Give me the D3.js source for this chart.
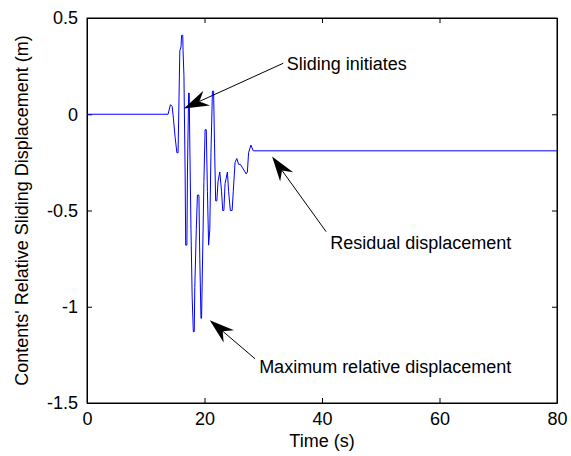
<!DOCTYPE html>
<html>
<head>
<meta charset="utf-8">
<script src="https://cdn.jsdelivr.net/npm/d3@7"></script>
<style>
  body { margin: 0; background: #fff; }
  text { font-family: "Liberation Sans", Arial, sans-serif; fill: #000; }
</style>
</head>
<body>
<div id="chart"></div>
<script>
// sliding displacement trace (time s, displacement m)
var times = [0, 13.8, 14.2, 14.5, 14.7, 15.0, 15.3, 15.5, 15.6, 15.8, 16.0, 16.1, 16.3, 16.35, 16.5, 16.7, 16.8, 17.0,
  17.1, 17.3, 17.4, 17.5, 17.7, 17.9, 18.1, 18.25, 18.35, 18.6, 18.8, 19.05, 19.2, 19.4, 19.5, 19.7, 19.9, 20.1,
  20.3, 20.5, 20.7, 20.9, 21.1, 21.35, 21.55, 21.7, 21.9, 22.1, 22.3, 22.6, 22.9, 23.1, 23.3, 23.5, 23.9, 24.1,
  24.4, 24.7, 24.9, 25.2, 25.5, 25.8, 26.1, 26.5, 26.9, 27.1, 27.3, 27.5, 27.9, 28.3, 80];
var disp = [0, 0, 0.05, 0.04, -0.02, -0.12, -0.2, -0.2, -0.03, 0.33, 0.35, 0.41, 0.41, 0.33, 0.2, -0.3, -0.68, -0.68,
  -0.3, 0.11, 0.11, -0.16, -0.6, -0.95, -1.13, -1.13, -0.9, -0.6, -0.42, -0.42, -0.75, -1.06, -1.06, -0.7, -0.35, -0.08,
  -0.08, -0.4, -0.68, -0.6, -0.2, 0.12, 0.12, -0.15, -0.45, -0.45, -0.35, -0.3, -0.4, -0.5, -0.5, -0.36, -0.3, -0.4,
  -0.5, -0.5, -0.4, -0.25, -0.23, -0.26, -0.26, -0.28, -0.3, -0.31, -0.3, -0.2, -0.16, -0.19, -0.19];

var xTicks = [0, 20, 40, 60, 80];
var yTicks = [0.5, 0, -0.5, -1, -1.5];

// annotations: tip and tail of each arrow and text anchor, in data units
var notes = [
  {text: "Sliding initiates", tip: [16.5, 0.03], tail: [33.4, 0.265], at: [34.0, 0.23]},
  {text: "Residual displacement", tip: [31.5, -0.22], tail: [40.7, -0.61], at: [41.4, -0.70]},
  {text: "Maximum relative displacement", tip: [20.9, -1.07], tail: [28.6, -1.27], at: [29.3, -1.345]}
];

var W = 571, H = 456;
var margin = {top: 18, right: 14, bottom: 53, left: 87},
    width = W - margin.left - margin.right,
    height = H - margin.top - margin.bottom;

var x = d3.scaleLinear().domain([0, 80]).range([0, width]);
var y = d3.scaleLinear().domain([-1.5, 0.5]).range([height, 0]);

var plain = function (d) { return String(d); }; // matlab style labels, plain hyphen

var svg = d3.select("#chart").append("svg")
    .attr("width", W)
    .attr("height", H);

var main = svg.append("g")
    .attr("transform", "translate(" + margin.left + "," + margin.top + ")");

// inward ticks like matlab, on all four sides
main.append("g")
    .attr("transform", "translate(0," + height + ")")
    .call(d3.axisBottom(x).tickValues(xTicks).tickSizeInner(-5).tickSizeOuter(0).tickPadding(9).tickFormat(plain));
main.append("g")
    .call(d3.axisTop(x).tickValues(xTicks).tickSizeInner(-5).tickSizeOuter(0).tickFormat(""));
main.append("g")
    .call(d3.axisLeft(y).tickValues(yTicks).tickSizeInner(-5).tickSizeOuter(0).tickPadding(9).tickFormat(plain));
main.append("g")
    .attr("transform", "translate(" + width + ",0)")
    .call(d3.axisRight(y).tickValues(yTicks).tickSizeInner(-5).tickSizeOuter(0).tickFormat(""));

main.selectAll(".tick text").style("font-size", "18px").style("font-family", "Liberation Sans, Arial, sans-serif");
main.selectAll(".domain, .tick line").attr("stroke", "#000");

main.append("rect")
    .attr("width", width).attr("height", height)
    .attr("fill", "none").attr("stroke", "#000").attr("stroke-width", 1);

var line = d3.line()
    .x(function (d, i) { return x(times[i]); })
    .y(function (d) { return y(d); });

main.append("path")
    .datum(disp)
    .attr("fill", "none")
    .attr("stroke", "#0000ff")
    .attr("stroke-width", 1)
    .attr("d", line);

// arrows
notes.forEach(function (n) {
  var x1 = x(n.tail[0]), y1 = y(n.tail[1]), x2 = x(n.tip[0]), y2 = y(n.tip[1]);
  var ang = Math.atan2(y2 - y1, x2 - x1);
  var L = 25, Wd = 8, back = 17;
  main.append("line")
      .attr("x1", x1).attr("y1", y1)
      .attr("x2", x2 - Math.cos(ang) * back).attr("y2", y2 - Math.sin(ang) * back)
      .attr("stroke", "#000").attr("stroke-width", 1);
  var c = Math.cos(ang), s = Math.sin(ang);
  function pt(u, v) { return [x2 + u * c - v * s, y2 + u * s + v * c]; }
  var head = [pt(0, 0), pt(-L, Wd), pt(-back, 0), pt(-L, -Wd)];
  main.append("polygon")
      .attr("points", head.map(function (p) { return p.join(","); }).join(" "))
      .attr("fill", "#000");
  main.append("text")
      .attr("x", x(n.at[0])).attr("y", y(n.at[1]))
      .style("font-size", "18px")
      .text(n.text);
});

svg.append("text")
    .attr("x", margin.left + width / 2)
    .attr("y", 447)
    .attr("text-anchor", "middle")
    .style("font-size", "18px")
    .text("Time (s)");

svg.append("text")
    .attr("transform", "translate(28," + (margin.top + height / 2) + ") rotate(-90)")
    .attr("text-anchor", "middle")
    .style("font-size", "18px")
    .text("Contents' Relative Sliding Displacement (m)");
</script>
</body>
</html>
